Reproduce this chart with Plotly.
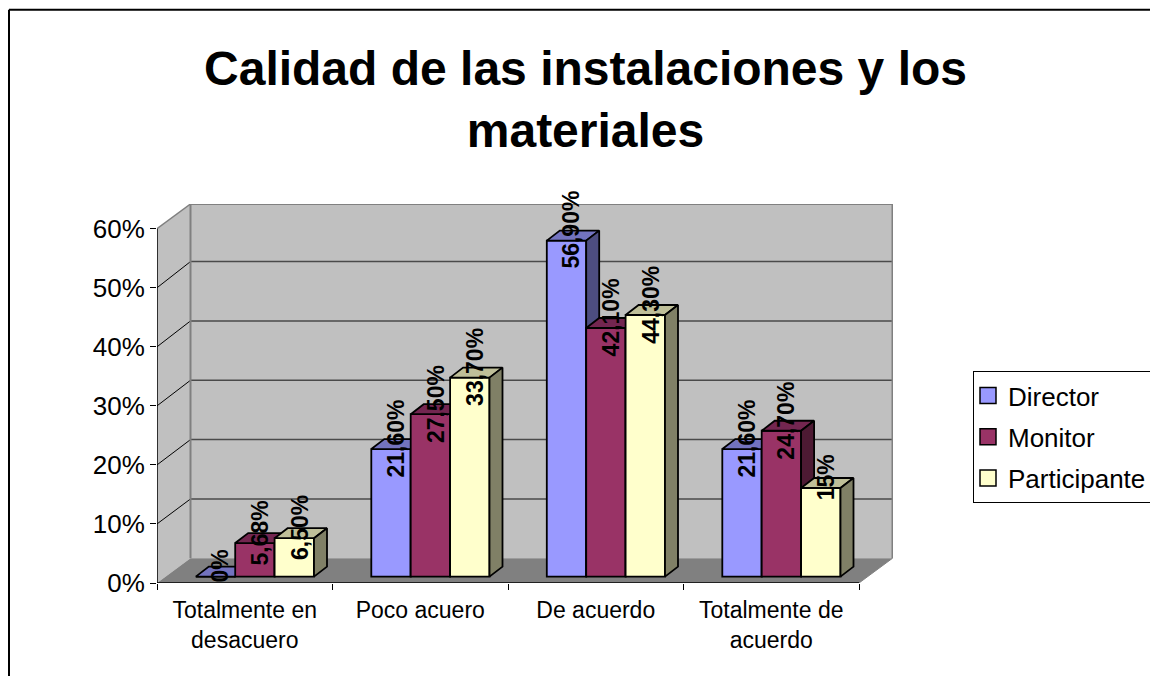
import plotly.graph_objects as go

TITLE = "Calidad de las instalaciones y los<br>materiales"
categories = ["Totalmente en<br>desacuero", "Poco acuero", "De acuerdo", "Totalmente de<br>acuerdo"]
series_names = ["Director", "Monitor", "Participante"]
director = [0, 21.6, 56.9, 21.6]
monitor = [5.68, 27.5, 42.1, 24.7]
participante = [6.5, 33.7, 44.3, 15]
director_labels = ["0%", "21,60%", "56,90%", "21,60%"]
monitor_labels = ["5,68%", "27,50%", "42,10%", "24,70%"]
participante_labels = ["6,50%", "33,70%", "44,30%", "15%"]
y_ticks = [0, 10, 20, 30, 40, 50, 60]
y_tick_labels = ["0%", "10%", "20%", "30%", "40%", "50%", "60%"]

W, H = 1150, 676
FONT = "Liberation Sans"
L, R, T, B = 157, 893, 204, 582.7
PX_X = 175.5                 # pixels per category
PX_Y = 5.9                   # pixels per percentage point
XMAX = (R - L) / PX_X
YMAX = (B - T) / PX_Y
WALL_DX, WALL_DY = 33.5 / PX_X, 24.7 / PX_Y
BACK_SCALE = 1.005
BAR_DX, BAR_DY = 13 / PX_X, 10 / PX_Y
BASE = (B - 576.3) / PX_Y
GROUP_OFF = 38.8 / PX_X
BAR_W = 39.4 / PX_X
LABEL_DX, LABEL_DY = 5 / PX_X, 10.5 / PX_Y

values = [director, monitor, participante]
labels = [director_labels, monitor_labels, participante_labels]
front = ["#9999FF", "#993366", "#FFFFCC"]
top = ["#7373BF", "#732650", "#BFBF99"]
side = ["#4D4D80", "#4D1A33", "#808066"]
OUT = "#000000"
BAR_LW = 1.8

fig = go.Figure()
annotations = []

for s, name in enumerate(series_names):
    suffix = "" if s == 0 else str(s + 1)
    xa, ya = "x" + suffix, "y" + suffix
    xs = [i + GROUP_OFF + (s + 0.5) * BAR_W for i in range(len(categories))]
    fig.add_trace(go.Bar(
        x=xs, y=values[s], base=BASE, width=BAR_W, name=name,
        marker=dict(color=front[s], line=dict(color=OUT, width=BAR_LW)),
        xaxis=xa, yaxis=ya, showlegend=False, hoverinfo="y",
    ))
    top_x, top_y, side_x, side_y = [], [], [], []
    for xc, v in zip(xs, values[s]):
        x0, x1, y0, y1 = xc - BAR_W / 2, xc + BAR_W / 2, BASE, BASE + v
        top_x += [x0, x1, x1 + BAR_DX, x0 + BAR_DX, x0, None]
        top_y += [y1, y1, y1 + BAR_DY, y1 + BAR_DY, y1, None]
        side_x += [x1, x1 + BAR_DX, x1 + BAR_DX, x1, x1, None]
        side_y += [y0, y0 + BAR_DY, y1 + BAR_DY, y1, y0, None]
    for px_, py_, col in ((top_x, top_y, top[s]), (side_x, side_y, side[s])):
        fig.add_trace(go.Scatter(
            x=px_, y=py_, mode="lines", fill="toself", fillcolor=col,
            line=dict(color=OUT, width=BAR_LW), xaxis=xa, yaxis=ya,
            showlegend=False, hoverinfo="skip",
        ))
    for xc, v, txt in zip(xs, values[s], labels[s]):
        annotations.append(dict(
            x=xc + LABEL_DX, y=BASE + v + LABEL_DY, xref="x", yref="y", text="<b>" + txt + "</b>",
            textangle=-90, showarrow=False, xanchor="center", yanchor="middle",
            font=dict(family=FONT, size=23, color="#000000"),
        ))

# legend entries
for s, name in enumerate(series_names):
    fig.add_trace(go.Scatter(
        x=[None], y=[None], mode="markers", name=name, legendgroup=name,
        marker=dict(symbol="square", size=16, color=front[s], line=dict(color=OUT, width=1.5)),
        hoverinfo="skip",
    ))

shapes = []
def poly(pts, fill, line=None, width=0):
    path = "M" + "L".join(f"{x},{y}" for x, y in pts) + "Z"
    shapes.append(dict(type="path", path=path, xref="x", yref="y", layer="below",
                       fillcolor=fill, line=dict(color=line or fill, width=width)))
def seg(x0, y0, x1, y1, col, width, layer="below"):
    shapes.append(dict(type="line", x0=x0, y0=y0, x1=x1, y1=y1, xref="x", yref="y",
                       layer=layer, line=dict(color=col, width=width)))

YTOP = y_ticks[-1]
XEND = len(categories)
WALL_TOP = YMAX
# back wall, side wall, floor
poly([(WALL_DX, WALL_DY), (XEND + WALL_DX, WALL_DY), (XEND + WALL_DX, WALL_TOP), (WALL_DX, WALL_TOP)], "#C0C0C0")
poly([(0, 0), (WALL_DX, WALL_DY), (WALL_DX, WALL_TOP), (0, YTOP)], "#C0C0C0")
poly([(0, 0), (XEND, 0), (XEND + WALL_DX, WALL_DY), (WALL_DX, WALL_DY)], "#808080")
for t in y_ticks[1:-1]:
    back_y = WALL_DY + t * BACK_SCALE
    seg(0, t, WALL_DX, back_y, "#000000", 1)
    seg(WALL_DX, back_y, XEND + WALL_DX, back_y, "#4A4A4A", 1.5)
seg(0, YTOP, WALL_DX, WALL_TOP, "#808080", 1.5)
seg(WALL_DX, WALL_TOP, XEND + WALL_DX, WALL_TOP, "#808080", 2)
seg(WALL_DX, WALL_DY, WALL_DX, WALL_TOP, "#808080", 2)
seg(XEND + WALL_DX, WALL_DY, XEND + WALL_DX, WALL_TOP, "#808080", 2)
seg(XEND, 0, XEND + WALL_DX, WALL_DY, "#808080", 1)
# axis lines
seg(0, 0, 0, YTOP, "#000000", 1.5)
seg(0, 0, XEND, 0, "#000000", 1.5)

# outer chart frame, running off the page at right and bottom
def px(x): return (x - L) / (R - L)
def py(y): return (B - y) / (B - T)
for x0, y0, x1, y1 in ((9, 10, 9, H + 5), (9, 10, W + 5, 10)):
    shapes.append(dict(type="line", xref="paper", yref="paper", layer="above",
                       x0=px(x0), y0=py(y0), x1=px(x1), y1=py(y1),
                       line=dict(color="#000000", width=2)))

fig.update_layout(
    width=W, height=H, autosize=False,
    margin=dict(l=L, r=W - R, t=T, b=H - B, pad=0),
    paper_bgcolor="#FFFFFF", plot_bgcolor="rgba(0,0,0,0)",
    font=dict(family=FONT, color="#000000"),
    barmode="overlay", shapes=shapes, annotations=annotations,
    title=dict(text="<b>" + TITLE + "</b>", x=585.5 / W, xanchor="center",
               y=1 - 85 / H, yanchor="middle", xref="container", yref="container",
               font=dict(family=FONT, size=48, color="#000000")),
    legend=dict(x=973 / W, y=1 - 371 / H, xref="container", yref="container",
                xanchor="left", yanchor="top", indentation=-6,
                bgcolor="#FFFFFF", bordercolor="#000000", borderwidth=1,
                font=dict(family=FONT, size=26, color="#000000"),
                traceorder="grouped", tracegroupgap=4.5, itemclick=False, itemdoubleclick=False),
    xaxis=dict(range=[0, XMAX], tickmode="array",
               tickvals=[i + 0.5 for i in range(XEND)], ticktext=categories,
               ticks="", showgrid=False, zeroline=False, showline=False, tickangle=0,
               tickfont=dict(family=FONT, size=23), ticklabelstandoff=11,
               minor=dict(tickmode="array", tickvals=list(range(XEND + 1)), ticks="outside",
                          ticklen=6, tickwidth=1, tickcolor="#000000", showgrid=False)),
    yaxis=dict(range=[0, YMAX], tickmode="array", tickvals=y_ticks, ticktext=y_tick_labels,
               ticks="outside", ticklen=6, tickwidth=1, tickcolor="#000000",
               showgrid=False, zeroline=False, showline=False,
               tickfont=dict(family=FONT, size=26)),
)
for s in (2, 3):
    fig.update_layout({
        f"xaxis{s}": dict(range=[0, XMAX], overlaying="x", visible=False, anchor=f"y{s}"),
        f"yaxis{s}": dict(range=[0, YMAX], overlaying="y", visible=False, anchor=f"x{s}"),
    })

fig.write_html("out.html", config=dict(displayModeBar=False),
               post_script="document.body.style.margin='0';document.body.style.overflow='hidden';")
